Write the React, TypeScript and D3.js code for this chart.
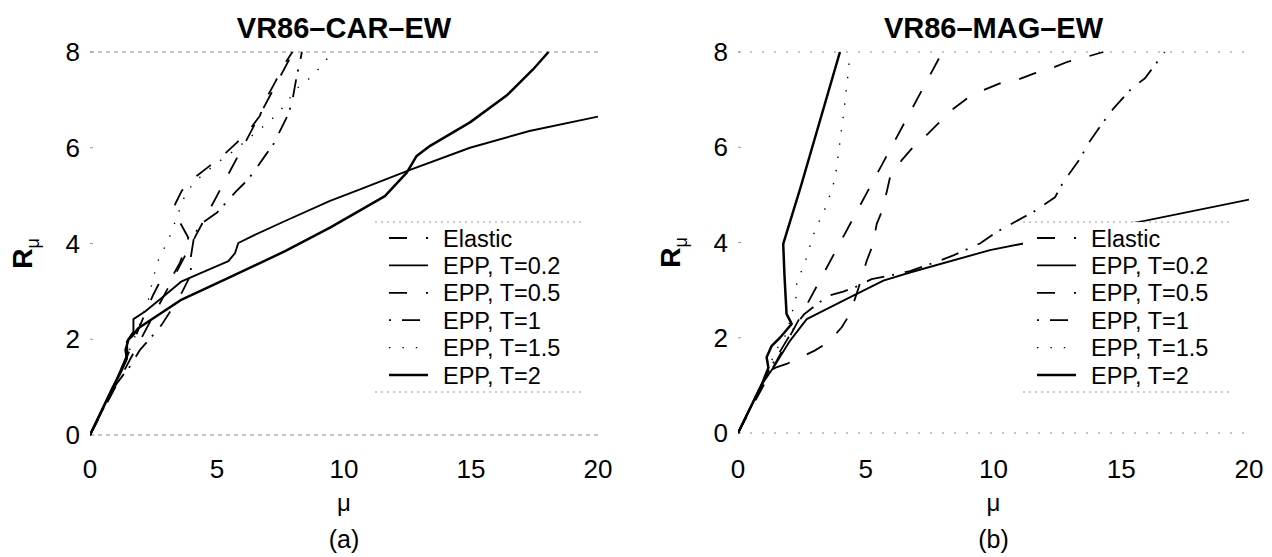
import React from "react";
import * as d3 from "d3";

type Pt = [number, number];

// Axis ticks and legend entries
const xTicks = [0, 5, 10, 15, 20];
const yTicks = [0, 2, 4, 6, 8];
const seriesNames = ["Elastic", "EPP, T=0.2", "EPP, T=0.5", "EPP, T=1", "EPP, T=1.5", "EPP, T=2"];

// VR86-CAR-EW : [mu, R_mu]
const carElastic: Pt[] = [[0, 0], [8, 8]];
const carT02: Pt[] = [[0, 0], [0.92, 1.01], [1.2, 1.35], [1.48, 1.7], [1.45, 1.95], [1.71, 2.16], [1.71, 2.42], [2.17, 2.58], [2.82, 2.86], [3.61, 3.21], [4.4, 3.39], [5.45, 3.63], [5.71, 3.8], [5.84, 4.01], [6.37, 4.15], [7.68, 4.47], [9.45, 4.89], [10.63, 5.13], [12.6, 5.54], [14.96, 6.0], [17.3, 6.35], [20, 6.65]];
const carT05: Pt[] = [[0, 0], [0.95, 1.02], [1.35, 1.5], [1.75, 2.0], [2.1, 2.45], [2.49, 2.93], [2.76, 3.21], [3.28, 3.35], [3.54, 3.6], [3.81, 3.98], [3.87, 4.12], [3.48, 4.5], [3.35, 4.82], [3.61, 5.1], [4.2, 5.41], [4.66, 5.6], [5.28, 5.86], [5.75, 6.09], [6.3, 6.39], [6.69, 6.67], [6.96, 7.05], [7.28, 7.36], [7.61, 7.71], [7.97, 8.0]];
const carT1: Pt[] = [[0, 0], [0.95, 1.0], [1.3, 1.25], [1.57, 1.43], [1.97, 1.78], [2.49, 2.09], [2.82, 2.3], [3.41, 2.79], [3.61, 2.97], [3.97, 3.35], [3.97, 3.72], [4.1, 4.15], [4.3, 4.38], [4.53, 4.47], [4.99, 4.64], [5.38, 4.87], [5.77, 5.1], [6.23, 5.34], [6.56, 5.58], [6.89, 5.83], [7.24, 6.09], [7.74, 6.63], [7.94, 6.91], [8.14, 7.5], [8.29, 7.85], [8.34, 8.0]];
const carT15: Pt[] = [[0, 0], [0.95, 1.05], [1.5, 1.7], [1.95, 2.3], [2.3, 2.83], [2.43, 3.14], [2.56, 3.42], [2.72, 3.7], [3.0, 3.98], [3.2, 4.22], [3.38, 4.5], [3.7, 4.95], [4.07, 5.27], [4.92, 5.65], [5.7, 5.95], [6.6, 6.35], [7.09, 6.56], [7.48, 6.77], [7.81, 6.99], [8.1, 7.22], [8.6, 7.43], [8.99, 7.64], [9.32, 7.85], [9.55, 8.0]];
const carT2: Pt[] = [[0, 0], [0.9, 1.0], [1.2, 1.3], [1.45, 1.6], [1.4, 1.78], [1.52, 2.0], [1.65, 2.06], [1.9, 2.23], [2.3, 2.37], [3.61, 2.83], [5.45, 3.28], [7.68, 3.84], [9.45, 4.33], [10.6, 4.68], [11.61, 4.99], [12.47, 5.48], [12.86, 5.83], [13.39, 6.04], [14.96, 6.53], [16.4, 7.09], [17.45, 7.64], [18.05, 8.0]];

// VR86-MAG-EW : [mu, R_mu]
const magElastic: Pt[] = [[0, 0], [8, 8]];
const magT02: Pt[] = [[0, 0], [0.93, 1.02], [1.38, 1.37], [2.04, 1.94], [2.69, 2.39], [4.2, 2.8], [5.69, 3.2], [6.73, 3.37], [9.86, 3.84], [11.17, 3.98], [15.86, 4.45], [20, 4.9]];
const magT05: Pt[] = [[0, 0], [0.93, 1.02], [1.1, 1.25], [1.5, 1.38], [1.9, 1.45], [2.3, 1.55], [3.0, 1.73], [3.53, 1.9], [4.06, 2.22], [4.38, 2.5], [4.72, 3.05], [5.04, 3.62], [5.27, 3.94], [5.43, 4.39], [5.62, 4.64], [5.82, 5.06], [5.95, 5.37], [6.41, 5.73], [6.8, 5.97], [7.45, 6.29], [7.84, 6.5], [8.43, 6.81], [8.95, 7.02], [9.6, 7.2], [10.25, 7.34], [10.9, 7.41], [11.6, 7.55], [12.28, 7.66], [12.93, 7.8], [13.65, 7.9], [14.3, 8.0]];
const magT1: Pt[] = [[0, 0], [0.93, 1.02], [1.3, 1.4], [1.8, 1.85], [2.3, 2.3], [2.6, 2.5], [3.01, 2.67], [3.53, 2.88], [4.12, 2.97], [4.58, 3.06], [5.23, 3.23], [5.9, 3.3], [6.73, 3.4], [7.9, 3.62], [8.43, 3.73], [9.47, 3.98], [10.06, 4.2], [11.17, 4.53], [11.56, 4.64], [12.41, 4.95], [12.73, 5.27], [13.39, 5.76], [13.71, 6.08], [14.3, 6.53], [14.69, 6.81], [15.4, 7.23], [15.93, 7.45], [16.7, 8.0]];
const magT15: Pt[] = [[0, 0], [0.93, 1.02], [1.3, 1.5], [1.6, 1.85], [1.9, 2.08], [2.27, 2.85], [2.3, 3.13], [2.49, 3.41], [2.69, 3.69], [2.84, 3.97], [3.01, 4.25], [3.47, 4.78], [3.8, 5.34], [3.95, 5.94], [4.15, 6.78], [4.3, 7.5], [4.38, 8.0]];
const magT2: Pt[] = [[0, 0], [0.93, 1.02], [1.19, 1.37], [1.12, 1.59], [1.32, 1.83], [1.64, 2.0], [2.1, 2.29], [1.9, 2.5], [1.82, 3.3], [1.77, 3.97], [2.45, 5.16], [3.99, 8.0]];

// Stroke style per series (same order as seriesNames)
const lineStyles: { dash: string | null; width: number }[] = [
  { dash: "18,19", width: 1.8 },
  { dash: null, width: 1.9 },
  { dash: "18,19", width: 1.8 },
  { dash: "2,11,18,8", width: 1.8 },
  { dash: "1.4,12", width: 1.4 },
  { dash: null, width: 2.5 },
];

const FONT = "'Liberation Sans', Arial, Helvetica, sans-serif";

interface PanelProps {
  id: string;
  x0: number;
  x1: number;
  yBottom: number;
  yTop: number;
  title: string;
  tag: string;
  series: Pt[][];
  frameDash: string;
}

function Panel({ id, x0, x1, yBottom, yTop, title, tag, series, frameDash }: PanelProps) {
  const xs = d3.scaleLinear().domain([0, 20]).range([x0, x1]);
  const ys = d3.scaleLinear().domain([0, 8]).range([yBottom, yTop]);
  const line = d3.line<Pt>().x((d) => xs(d[0])).y((d) => ys(d[1]));
  const cx = (x0 + x1) / 2;

  // legend box placement
  const lgX = x0 + 285;
  const lgY = 222;
  const lgW = 206;
  const lgH = 170;
  const rowY = (i: number) => 238 + i * 27.4;

  return (
    <g>
      <defs>
        <clipPath id={`clip-${id}`}>
          <rect x={x0} y={yTop - 1} width={x1 - x0} height={yBottom - yTop + 2} />
        </clipPath>
      </defs>

      {/* faint frame, top and bottom edges */}
      <line x1={x0} x2={x1} y1={yTop} y2={yTop} stroke="#8a8a8a" strokeWidth={1} strokeDasharray={frameDash} />
      <line x1={x0} x2={x1} y1={yBottom} y2={yBottom} stroke="#8a8a8a" strokeWidth={1} strokeDasharray={frameDash} />

      {/* tick marks */}
      {yTicks.map((t) => (
        <line key={`yt${t}`} x1={x0} x2={x0 + 3} y1={ys(t)} y2={ys(t)} stroke="#999" strokeWidth={1} />
      ))}

      {/* curves */}
      <g clipPath={`url(#clip-${id})`}>
        {series.map((s, i) => (
          <path
            key={i}
            d={line(s) || ""}
            fill="none"
            stroke="#000"
            strokeWidth={lineStyles[i].width}
            strokeDasharray={lineStyles[i].dash || undefined}
            strokeLinejoin="round"
          />
        ))}
      </g>

      {/* tick labels */}
      {yTicks.map((t) => (
        <text key={`yl${t}`} x={x0 - 10} y={ys(t) + 9} textAnchor="end" fontSize={26} fontFamily={FONT}>
          {t}
        </text>
      ))}
      {xTicks.map((t) => (
        <text key={`xl${t}`} x={xs(t)} y={478} textAnchor="middle" fontSize={26} fontFamily={FONT}>
          {t}
        </text>
      ))}

      {/* axis titles */}
      <text x={cx} y={38} textAnchor="middle" fontSize={29} fontWeight="bold" fontFamily={FONT}>
        {title}
      </text>
      <text x={cx} y={511} textAnchor="middle" fontSize={24} fontFamily={FONT}>
        μ
      </text>
      <text x={cx} y={548} textAnchor="middle" fontSize={25} fontFamily={FONT}>
        {tag}
      </text>
      <text
        transform={`translate(${x0 - 58},${(yTop + yBottom) / 2 + 10}) rotate(-90)`}
        textAnchor="middle"
        fontFamily={FONT}
        fontWeight="bold"
        fontSize={28}
      >
        R
        <tspan fontSize={18} fontWeight="normal" dy={7}>
          μ
        </tspan>
      </text>

      {/* legend: white box with faint top and bottom edges */}
      <rect x={lgX} y={lgY} width={lgW} height={lgH} fill="#fff" />
      <line x1={lgX} x2={lgX + lgW} y1={lgY} y2={lgY} stroke="#999" strokeWidth={1} strokeDasharray="2,4" />
      <line x1={lgX} x2={lgX + lgW} y1={lgY + lgH} y2={lgY + lgH} stroke="#999" strokeWidth={1} strokeDasharray="2,4" />
      {seriesNames.map((name, i) => (
        <g key={name}>
          <line
            x1={lgX + 14}
            x2={lgX + 53}
            y1={rowY(i)}
            y2={rowY(i)}
            stroke="#000"
            strokeWidth={lineStyles[i].width}
            strokeDasharray={lineStyles[i].dash || undefined}
          />
          <text x={lgX + 68} y={rowY(i) + 8.5} fontSize={23.5} fontFamily={FONT}>
            {name}
          </text>
        </g>
      ))}
    </g>
  );
}

export default function App() {
  return (
    <svg
      width={1272}
      height={557}
      viewBox="0 0 1272 557"
      style={{ position: "absolute", left: 0, top: 0, background: "#fff" }}
    >
      <rect x={0} y={0} width={1272} height={557} fill="#fff" />
      <Panel
        id="car"
        x0={90}
        x1={598}
        yBottom={435}
        yTop={52}
        title="VR86–CAR–EW"
        tag="(a)"
        series={[carElastic, carT02, carT05, carT1, carT15, carT2]}
        frameDash="4,4"
      />
      <Panel
        id="mag"
        x0={738}
        x1={1249}
        yBottom={433}
        yTop={52}
        title="VR86–MAG–EW"
        tag="(b)"
        series={[magElastic, magT02, magT05, magT1, magT15, magT2]}
        frameDash="2,10"
      />
    </svg>
  );
}
